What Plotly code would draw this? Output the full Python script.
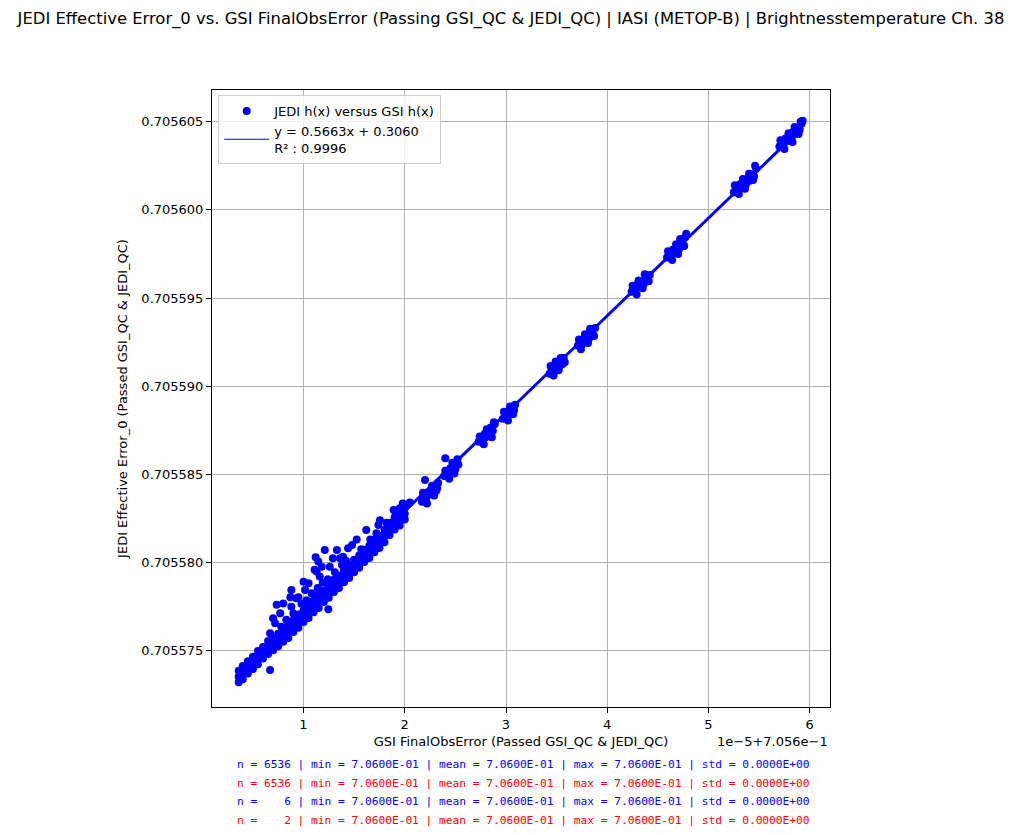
import numpy as np
import plotly.graph_objects as go

# x values are shown with an offset, as on the axis: x * 1e-5 + 7.056e-1
X_OFFSET_LABEL = "1e\u22125+7.056e\u22121"

# dense band of points, three rows along the lower part
BAND_X = [0.36, 0.40, 0.45, 0.50, 0.55, 0.60, 0.65, 0.70, 0.75, 0.80, 0.85, 0.90,
          0.95, 1.00, 1.05, 1.10, 1.15, 1.20, 1.25, 1.30, 1.35, 1.40, 1.45, 1.50,
          1.55, 1.60, 1.65, 1.70, 1.75, 1.80, 1.85, 1.90, 1.95, 2.00]
BAND_Y_LOW = [0.70557320, 0.70557338, 0.70557370, 0.70557395, 0.70557422, 0.70557455,
              0.70557480, 0.70557502, 0.70557525, 0.70557550, 0.70557572, 0.70557605,
              0.70557630, 0.70557662, 0.70557685, 0.70557718, 0.70557742, 0.70557775,
              0.70557800, 0.70557832, 0.70557855, 0.70557888, 0.70557912, 0.70557945,
              0.70557970, 0.70558002, 0.70558025, 0.70558058, 0.70558082, 0.70558115,
              0.70558155, 0.70558187, 0.70558210, 0.70558243]
BAND_Y_MID = [0.70557352, 0.70557375, 0.70557403, 0.70557432, 0.70557460, 0.70557488,
              0.70557517, 0.70557535, 0.70557563, 0.70557582, 0.70557610, 0.70557638,
              0.70557667, 0.70557695, 0.70557723, 0.70557751, 0.70557780, 0.70557808,
              0.70557836, 0.70557865, 0.70557893, 0.70557921, 0.70557950, 0.70557978,
              0.70558006, 0.70558035, 0.70558063, 0.70558091, 0.70558120, 0.70558148,
              0.70558191, 0.70558220, 0.70558248, 0.70558276]
BAND_Y_HIGH = [0.70557385, 0.70557412, 0.70557440, 0.70557465, 0.70557498, 0.70557520,
               0.70557555, 0.70557572, 0.70557595, 0.70557620, 0.70557648, 0.70557670,
               0.70557705, 0.70557728, 0.70557760, 0.70557785, 0.70557818, 0.70557840,
               0.70557872, 0.70557902, 0.70557925, 0.70557958, 0.70557982, 0.70558015,
               0.70558040, 0.70558072, 0.70558095, 0.70558128, 0.70558152, 0.70558185,
               0.70558225, 0.70558257, 0.70558280, 0.70558312]

# looser points just above the band
UPPER_EDGE_X = [0.78, 0.83, 0.90, 0.98, 1.03, 1.08, 1.14, 1.19, 1.24, 1.31, 1.38, 1.42,
                1.57, 1.66, 1.72, 1.82, 1.92, 1.98]
UPPER_EDGE_Y = [0.70557635, 0.70557675, 0.70557710, 0.70557765, 0.70557785, 0.70557825,
                0.70557855, 0.70557885, 0.70557905, 0.70557945, 0.70557985, 0.70558010,
                0.70558075, 0.70558130, 0.70558165, 0.70558225, 0.70558285, 0.70558335]

# scattered points off the band
OUTLIER_X = [0.67, 0.70, 0.72, 0.735, 0.77, 0.80, 0.87, 0.88, 0.88, 0.93, 0.95, 0.965,
             1.00, 1.015, 1.05, 1.11, 1.12, 1.13, 1.146, 1.16, 1.18, 1.21, 1.26, 1.29,
             1.33, 1.36, 1.39, 1.44, 1.48, 1.525, 1.62, 1.74, 1.755, 1.89, 1.95, 2.05,
             2.20, 2.40, 0.67, 1.245]
OUTLIER_Y = [0.70557599, 0.70557684, 0.70557655, 0.70557760, 0.70557712, 0.70557767,
             0.70557803, 0.70557844, 0.70557749, 0.70557797, 0.70557803, 0.70557702,
             0.70557891, 0.70557844, 0.70557882, 0.70557958, 0.70558030, 0.70557948,
             0.70558005, 0.70557920, 0.70557976, 0.70558071, 0.70557976, 0.70558024,
             0.70558071, 0.70558024, 0.70558033, 0.70558081, 0.70558099, 0.70558130,
             0.70558184, 0.70558213, 0.70558240, 0.70558298, 0.70558307, 0.70558340,
             0.70558468, 0.70558591, 0.70557390, 0.70557735]

# clusters along the upper part of the line
CLUSTER_X = [2.17, 2.19, 2.21, 2.23, 2.25, 2.26, 2.28, 2.30, 2.31, 2.33,
             2.18, 2.22, 2.27, 2.29, 2.32,
             2.39, 2.41, 2.43, 2.45, 2.46, 2.48, 2.50, 2.51, 2.53,
             2.40, 2.44, 2.47, 2.49, 2.52,
             2.73, 2.75, 2.77, 2.79, 2.80, 2.82, 2.84, 2.85, 2.87, 2.89,
             2.74, 2.78, 2.81, 2.86, 2.88,
             2.97, 2.99, 3.01, 3.03, 3.05, 3.06, 3.08, 3.09,
             2.98, 3.02, 3.04, 3.07,
             3.43, 3.45, 3.46, 3.48, 3.50, 3.51, 3.53, 3.55, 3.56, 3.57,
             3.44, 3.47, 3.49, 3.52, 3.54, 3.58,
             3.71, 3.73, 3.75, 3.77, 3.79, 3.80, 3.82, 3.84, 3.86, 3.88,
             3.72, 3.74, 3.78, 3.81, 3.83, 3.87,
             4.24, 4.26, 4.28, 4.30, 4.32, 4.34, 4.36, 4.38, 4.40, 4.42,
             4.25, 4.29, 4.31, 4.35, 4.37, 4.41,
             4.59, 4.61, 4.63, 4.65, 4.67, 4.69, 4.71, 4.73, 4.75, 4.77, 4.78,
             4.60, 4.64, 4.68, 4.70, 4.72, 4.76,
             5.25, 5.27, 5.29, 5.31, 5.33, 5.35, 5.37, 5.39, 5.41, 5.43, 5.45, 5.47,
             5.26, 5.30, 5.34, 5.36, 5.40, 5.44, 5.46,
             5.70, 5.72, 5.74, 5.76, 5.78, 5.80, 5.82, 5.84, 5.86, 5.88, 5.90, 5.92, 5.93,
             5.71, 5.75, 5.79, 5.83, 5.85, 5.89, 5.91]
CLUSTER_Y = [0.70558345, 0.70558375, 0.70558355, 0.70558395, 0.70558385, 0.70558415,
             0.70558395, 0.70558430, 0.70558405, 0.70558450,
             0.70558395, 0.70558335, 0.70558435, 0.70558380, 0.70558420,
             0.70558490, 0.70558515, 0.70558500, 0.70558535, 0.70558510, 0.70558550,
             0.70558530, 0.70558570, 0.70558555,
             0.70558520, 0.70558475, 0.70558565, 0.70558505, 0.70558585,
             0.70558685, 0.70558710, 0.70558695, 0.70558730, 0.70558710, 0.70558745,
             0.70558725, 0.70558765, 0.70558745, 0.70558785,
             0.70558715, 0.70558670, 0.70558755, 0.70558710, 0.70558795,
             0.70558815, 0.70558840, 0.70558825, 0.70558860, 0.70558845, 0.70558880,
             0.70558865, 0.70558895,
             0.70558855, 0.70558805, 0.70558885, 0.70558840,
             0.70559070, 0.70559095, 0.70559080, 0.70559110, 0.70559095, 0.70559130,
             0.70559115, 0.70559145, 0.70559125, 0.70559160,
             0.70559115, 0.70559060, 0.70559140, 0.70559090, 0.70559160, 0.70559135,
             0.70559230, 0.70559250, 0.70559235, 0.70559270, 0.70559255, 0.70559285,
             0.70559270, 0.70559305, 0.70559290, 0.70559330,
             0.70559265, 0.70559210, 0.70559295, 0.70559245, 0.70559325, 0.70559285,
             0.70559535, 0.70559560, 0.70559545, 0.70559580, 0.70559565, 0.70559595,
             0.70559580, 0.70559615, 0.70559600, 0.70559630,
             0.70559570, 0.70559520, 0.70559600, 0.70559555, 0.70559635, 0.70559595,
             0.70559730, 0.70559755, 0.70559740, 0.70559775, 0.70559760, 0.70559795,
             0.70559780, 0.70559820, 0.70559805, 0.70559845, 0.70559865,
             0.70559765, 0.70559715, 0.70559805, 0.70559750, 0.70559835, 0.70559795,
             0.70560100, 0.70560130, 0.70560110, 0.70560145, 0.70560125, 0.70560160,
             0.70560145, 0.70560180, 0.70560165, 0.70560200, 0.70560190, 0.70560235,
             0.70560140, 0.70560090, 0.70560175, 0.70560120, 0.70560205, 0.70560170,
             0.70560250,
             0.70560360, 0.70560385, 0.70560370, 0.70560405, 0.70560390, 0.70560425,
             0.70560410, 0.70560445, 0.70560430, 0.70560465, 0.70560455, 0.70560490,
             0.70560505,
             0.70560395, 0.70560345, 0.70560435, 0.70560385, 0.70560470, 0.70560430,
             0.70560500]

FIT_LABEL = "y = 0.5663x + 0.3060<br>R\u00b2 : 0.9996"
SCATTER_LABEL = "JEDI h(x) versus GSI h(x)"

STATS_LINES = [
    ("n = 6536 | min = 7.0600E-01 | mean = 7.0600E-01 | max = 7.0600E-01 | std = 0.0000E+00", "blue"),
    ("n = 6536 | min = 7.0600E-01 | mean = 7.0600E-01 | max = 7.0600E-01 | std = 0.0000E+00", "red"),
    ("n =    6 | min = 7.0600E-01 | mean = 7.0600E-01 | max = 7.0600E-01 | std = 0.0000E+00", "blue"),
    ("n =    2 | min = 7.0600E-01 | mean = 7.0600E-01 | max = 7.0600E-01 | std = 0.0000E+00", "red"),
]

TITLE = ("JEDI Effective Error_0 vs. GSI FinalObsError (Passing GSI_QC & JEDI_QC) | "
         "IASI (METOP-B) | Brightnesstemperature Ch. 38")

FONT = "DejaVu Sans, Arial, sans-serif"
MONO = "DejaVu Sans Mono, monospace"

x_all = np.array(BAND_X * 3 + UPPER_EDGE_X + OUTLIER_X + CLUSTER_X)
y_all = np.array(BAND_Y_LOW + BAND_Y_MID + BAND_Y_HIGH + UPPER_EDGE_Y + OUTLIER_Y + CLUSTER_Y)

# least-squares fit line over the data range
slope, intercept = np.polyfit(x_all, y_all, 1)
x_line = np.array([x_all.min(), x_all.max()])
y_line = slope * x_line + intercept

fig = go.Figure()
fig.add_trace(go.Scatter(
    x=x_all, y=y_all, mode="markers",
    marker=dict(color="#0000ff", size=8, line=dict(width=0)),
    showlegend=False,
))
fig.add_trace(go.Scatter(
    x=x_line, y=y_line, mode="lines",
    line=dict(color="#0000ff", width=3),
    showlegend=False,
))

# legend-only entries
fig.add_trace(go.Scatter(
    x=[None], y=[None], mode="markers", name=SCATTER_LABEL,
    marker=dict(color="#0000ff", size=8),
))
fig.add_trace(go.Scatter(
    x=[None], y=[None], mode="lines", name=FIT_LABEL,
    line=dict(color="#0000ff", width=1),
))

axis_style = dict(
    showline=True, mirror=True, linecolor="black", linewidth=1,
    ticks="outside", ticklen=5, tickcolor="black", tickwidth=1,
    showgrid=True, gridcolor="#b0b0b0", gridwidth=0.8, zeroline=False,
    tickfont=dict(family=FONT, size=13, color="black"),
)

fig.update_xaxes(
    **axis_style, range=[0.0963, 6.2], tick0=0, dtick=1,
    title=dict(text="GSI FinalObsError (Passed GSI_QC & JEDI_QC)",
               font=dict(family=FONT, size=13, color="black"), standoff=6),
)
fig.update_yaxes(
    **axis_style, range=[0.7055718, 0.7056068], tick0=0.705575, dtick=0.000005,
    tickformat=".6f",
    title=dict(text="JEDI Effective Error_0 (Passed GSI_QC & JEDI_QC)",
               font=dict(family=FONT, size=13, color="black"), standoff=10),
)

annotations = [
    dict(text=X_OFFSET_LABEL, xref="paper", yref="paper", x=1.0, y=-0.056,
         xanchor="right", yanchor="middle", showarrow=False,
         font=dict(family=FONT, size=13, color="black")),
]
stats_y = [-0.0933, -0.124, -0.153, -0.184]
for (line_text, color), yy in zip(STATS_LINES, stats_y):
    annotations.append(dict(
        text=line_text.replace(" ", "\u00a0"), xref="paper", yref="paper",
        x=0.037, y=yy, xanchor="left", yanchor="middle", showarrow=False,
        font=dict(family=MONO, size=11.2, color=color),
    ))

fig.update_layout(
    width=1022, height=835,
    margin=dict(l=212, r=192, t=90, b=128),
    paper_bgcolor="white", plot_bgcolor="white",
    font=dict(family=FONT, size=13, color="black"),
    title=dict(text=TITLE, x=0.5, xref="container", xanchor="center",
               y=0.978, yanchor="middle", font=dict(family=FONT, size=16.4, color="black")),
    legend=dict(
        x=0.01, y=0.992, xanchor="left", yanchor="top", itemwidth=45,
        bgcolor="rgba(255,255,255,0.8)", bordercolor="#cccccc", borderwidth=1,
        font=dict(family=FONT, size=13, color="black"), tracegroupgap=2,
    ),
    annotations=annotations,
)

fig.write_html("out.html", config={"displayModeBar": False},
               post_script="document.body.style.margin='0';")
